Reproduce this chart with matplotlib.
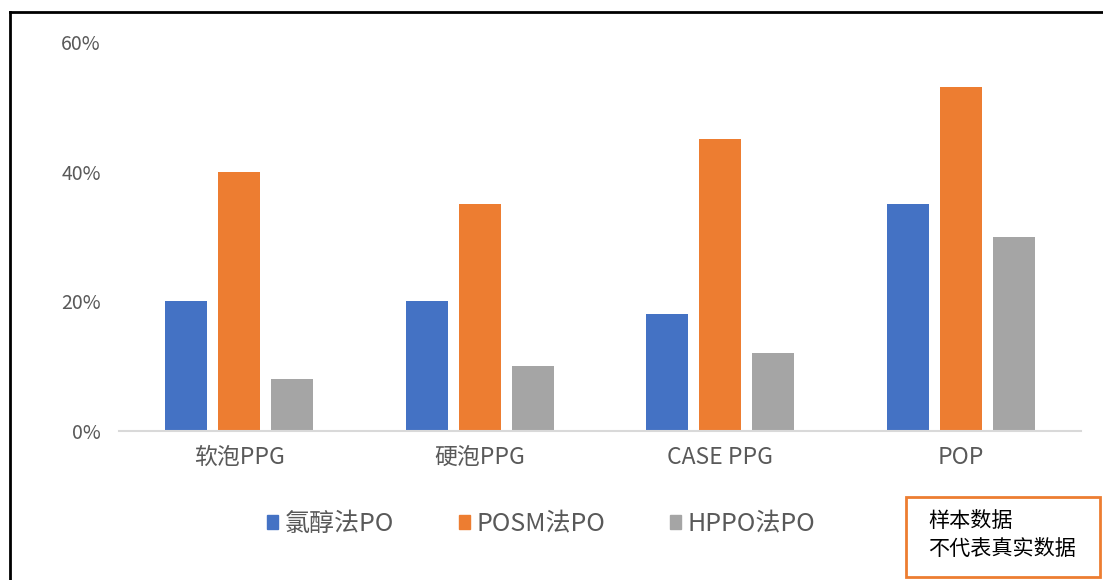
import matplotlib.pyplot as plt
import numpy as np
from matplotlib.patches import Patch, Rectangle
from matplotlib.lines import Line2D
from matplotlib.ticker import PercentFormatter

plt.rcParams['font.family'] = ['Noto Sans CJK SC', 'DejaVu Sans']

# 数据
categories = ['软泡PPG', '硬泡PPG', 'CASE PPG', 'POP']
series_names = ['氯醇法PO', 'POSM法PO', 'HPPO法PO']
chlorohydrin = [0.20, 0.20, 0.18, 0.35]
posm = [0.40, 0.35, 0.45, 0.53]
hppo = [0.08, 0.10, 0.12, 0.30]
colors = ['#4472C4', '#ED7D31', '#A5A5A5']

W, H = 1103, 580
fig = plt.figure(figsize=(W / 100, H / 100), dpi=100)
ax = fig.add_axes([119 / W, 1 - 431 / H, (1081 - 119) / W, (431 - 42) / H])

x = np.arange(len(categories))
bw = 0.175
step = 0.22
for i, vals in enumerate([chlorohydrin, posm, hppo]):
    ax.bar(x + (i - 1) * step, vals, width=bw, color=colors[i], zorder=2)

ax.set_xlim(-0.5, len(categories) - 0.5)
ax.set_ylim(0, 0.6)
ax.set_yticks([0, 0.2, 0.4, 0.6])
ax.yaxis.set_major_formatter(PercentFormatter(1.0, decimals=0))
ax.set_xticks(x)
ax.set_xticklabels(categories)

for s in ['top', 'right', 'left']:
    ax.spines[s].set_visible(False)
ax.spines['bottom'].set_color('#D9D9D9')
ax.spines['bottom'].set_linewidth(1.5)
ax.tick_params(axis='y', length=0, pad=13, labelsize=14, labelcolor='#595959')
ax.tick_params(axis='x', length=0, pad=11, labelsize=16.5, labelcolor='#595959')

# 图例
handles = [Patch(color=c) for c in colors]
fig.legend(handles, series_names, loc='center', bbox_to_anchor=(541 / W, 1 - 524 / H),
           ncol=3, frameon=False, fontsize=18, labelcolor='#595959',
           handlelength=0.45, handleheight=0.45, handletextpad=0.25, columnspacing=2.6)

# 外框线
fig.add_artist(Line2D([10 / W, 1], [1 - 12 / H, 1 - 12 / H], color='black', lw=2,
                      transform=fig.transFigure))
fig.add_artist(Line2D([10 / W, 10 / W], [1 - 12 / H, 0], color='black', lw=2,
                      transform=fig.transFigure))

# 注释框
fig.add_artist(Rectangle((906 / W, 1 - 577 / H), (1100 - 906) / W, 80 / H,
                         fill=False, edgecolor='#ED7D31', lw=2, transform=fig.transFigure))
fig.text(928 / W, 1 - 521 / H, '样本数据', fontsize=15.2, va='center', ha='left', color='black')
fig.text(928 / W, 1 - 549 / H, '不代表真实数据', fontsize=15.2, va='center', ha='left', color='black')

fig.savefig('out.png', dpi=100)
